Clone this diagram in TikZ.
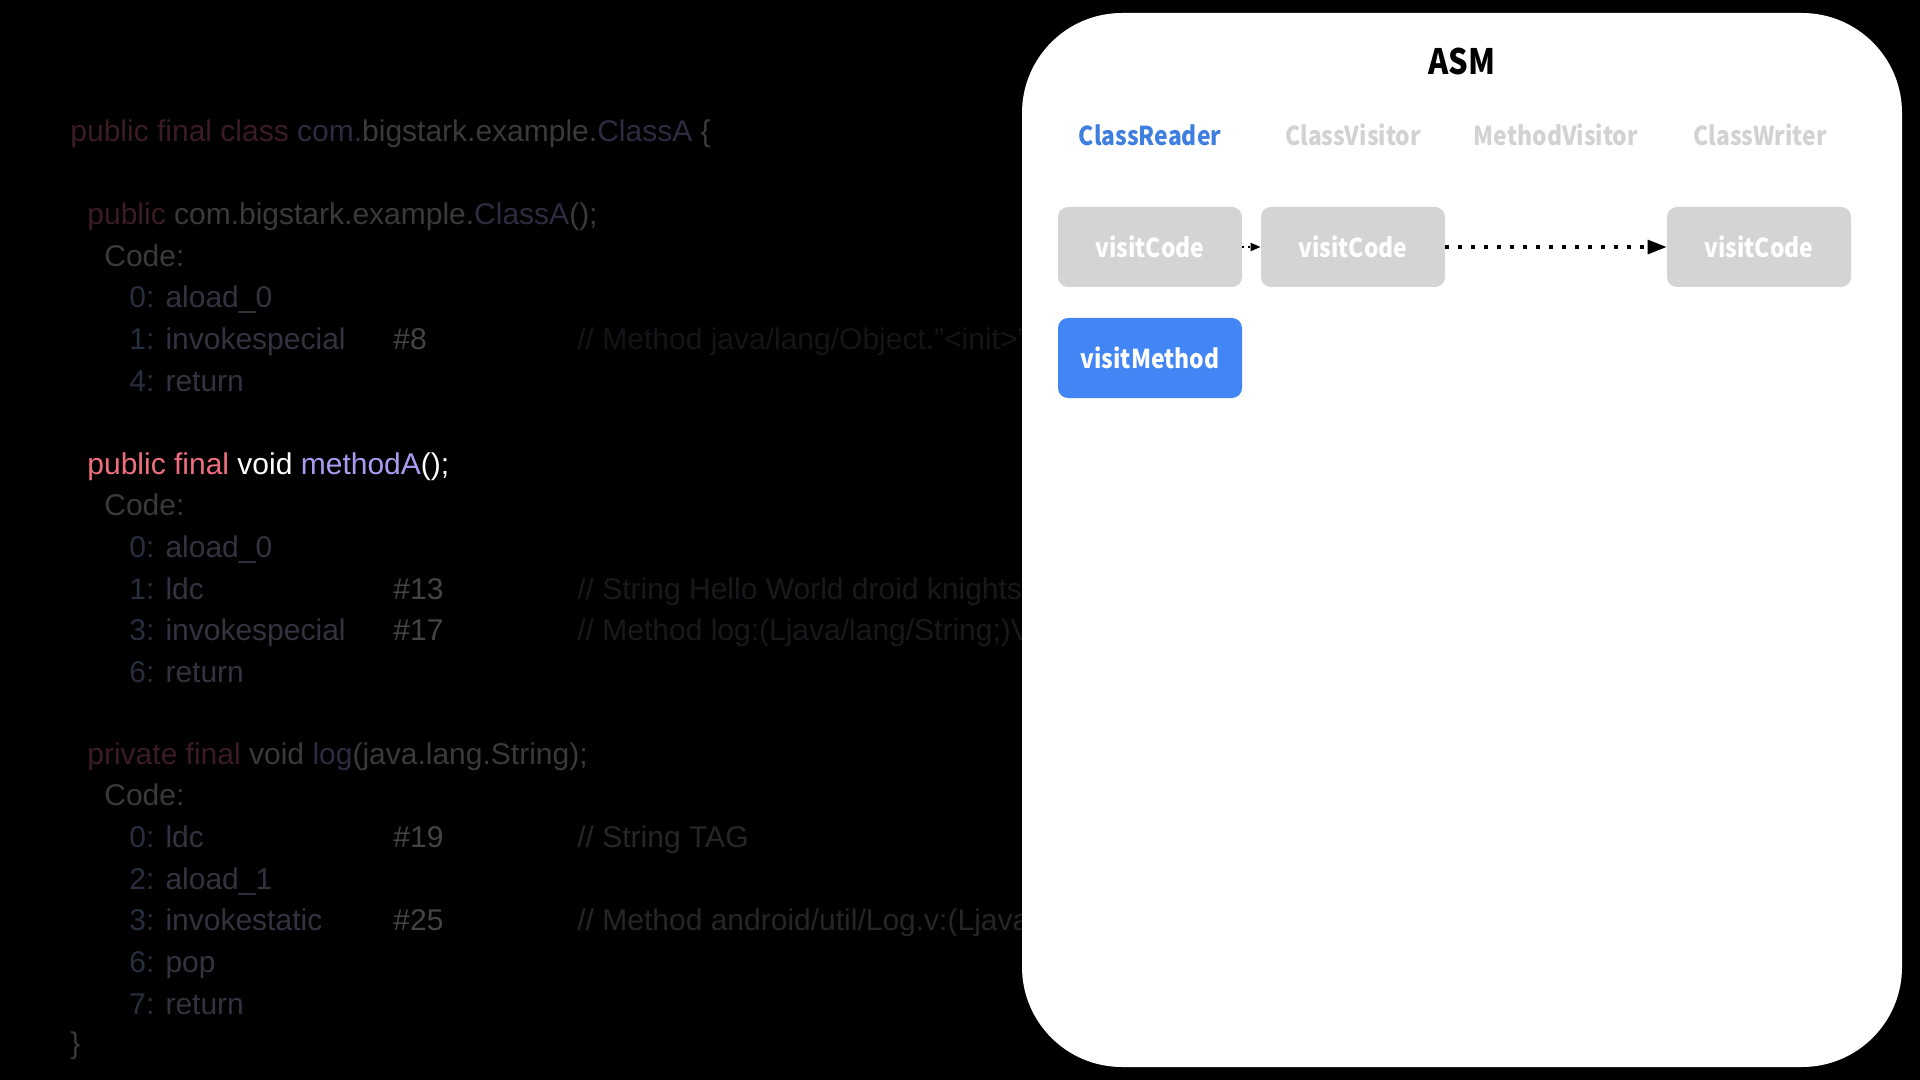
\documentclass[tikz,border=0pt]{standalone}
\usepackage{fontspec}
\setmainfont{Liberation Sans}
\newfontfamily\asmfont[FakeStretch=0.88]{Noto Sans CJK SC}
\usetikzlibrary{arrows.meta}
\definecolor{kwdim}{HTML}{3A1C22}
\definecolor{txtdim}{HTML}{3A3A3A}
\definecolor{clsdim}{HTML}{2C2B40}
\definecolor{numdim}{HTML}{282E3E}
\definecolor{opdim}{HTML}{333340}
\definecolor{refdim}{HTML}{444444}
\definecolor{cmtdim}{HTML}{151519}
\definecolor{cmtmid}{HTML}{19191D}
\definecolor{cmtlog}{HTML}{262628}
\definecolor{kwhi}{HTML}{EE6E7E}
\definecolor{mthhi}{HTML}{A99CF0}
\definecolor{boxgray}{HTML}{D4D4D4}
\definecolor{hdgray}{HTML}{D2D2D2}
\definecolor{asmblue}{HTML}{4285F4}
\definecolor{hdblue}{HTML}{3F7FE0}
\tikzset{every picture/.style={x=0.5pt,y=-0.5pt},
  code/.style={anchor=west,inner sep=0pt,text=txtdim,font=\fontsize{15}{18}\selectfont,text height=11pt,text depth=3pt},
  head/.style={font=\asmfont\bfseries\fontsize{13}{15}\selectfont,text=hdgray},
  call/.style={rounded corners=5pt,fill=boxgray,text=white,minimum width=92pt,minimum height=40pt,inner sep=0pt,font=\asmfont\bfseries\fontsize{13}{15}\selectfont},
  flow/.style={line width=1.6pt,dash pattern=on 1.6pt off 4.9pt,-{Triangle[length=9.5pt,width=7pt]}},
  hop/.style={line width=1pt,dash pattern=on 1pt off 2pt,-{Triangle[length=5pt,width=4pt]}}
}
\begin{document}
\begin{tikzpicture}

  \fill[black] (0,0) rectangle (1920,1080);
  \useasboundingbox (0,0) rectangle (1920,1080);

  % bytecode listing
  \node[code] (l1) at (70,134) {\textcolor{kwdim}{public final class} \textcolor{clsdim}{com.}bigstark.example.\textcolor{clsdim}{ClassA} \{};
  \node[code] (l2) at (87,217) {\textcolor{kwdim}{public} com.bigstark.example.\textcolor{clsdim}{ClassA}();};
  \node[code] (l3) at (104,259) {Code:};
  \node[code] (l4) at (129,300) {\textcolor{numdim}{0:} \textcolor{opdim}{aload\_0}};
  \node[code] (l5) at (129,342) {\textcolor{numdim}{1:} \textcolor{opdim}{invokespecial}};
  \node[code,text=refdim] (r5) at (393,342) {\#8};
  \node[code,text=cmtdim] (m5) at (577,342) {// Method java/lang/Object."<init>":()V};
  \node[code] (l6) at (129,384) {\textcolor{numdim}{4:} \textcolor{opdim}{return}};

  \node[code,text=white] (l7) at (87,466) {\textcolor{kwhi}{public final} void \textcolor{mthhi}{methodA}();};
  \node[code] (l8) at (104,507) {Code:};
  \node[code] (l9) at (129,549) {\textcolor{numdim}{0:} \textcolor{opdim}{aload\_0}};
  \node[code] (l10) at (129,591) {\textcolor{numdim}{1:} \textcolor{opdim}{ldc}};
  \node[code,text=refdim] (r10) at (393,591) {\#13};
  \node[code,text=cmtmid] (m10) at (577,591) {// String Hello World droid knights};
  \node[code] (l11) at (129,632) {\textcolor{numdim}{3:} \textcolor{opdim}{invokespecial}};
  \node[code,text=refdim] (r11) at (393,632) {\#17};
  \node[code,text=cmtmid] (m11) at (577,632) {// Method log:(Ljava/lang/String;)V};
  \node[code] (l12) at (129,674) {\textcolor{numdim}{6:} \textcolor{opdim}{return}};

  \node[code] (l13) at (87,756) {\textcolor{kwdim}{private final} void \textcolor{clsdim}{log}(java.lang.String);};
  \node[code] (l14) at (104,797) {Code:};
  \node[code] (l15) at (129,839) {\textcolor{numdim}{0:} \textcolor{opdim}{ldc}};
  \node[code,text=refdim] (r15) at (393,839) {\#19};
  \node[code,text=cmtlog] (m15) at (577,839) {// String TAG};
  \node[code] (l16) at (129,881) {\textcolor{numdim}{2:} \textcolor{opdim}{aload\_1}};
  \node[code] (l17) at (129,922) {\textcolor{numdim}{3:} \textcolor{opdim}{invokestatic}};
  \node[code,text=refdim] (r17) at (393,922) {\#25};
  \node[code,text=cmtlog] (m17) at (577,922) {// Method android/util/Log.v:(Ljava/lang/String;Ljava/lang/String;)I};
  \node[code] (l18) at (129,964) {\textcolor{numdim}{6:} \textcolor{opdim}{pop}};
  \node[code] (l19) at (129,1006) {\textcolor{numdim}{7:} \textcolor{opdim}{return}};
  \node[code] (l20) at (70,1045) {\}};

  % ASM panel
  \fill[white,rounded corners=50pt] (1022,13) rectangle (1902,1067);
  \node[font=\asmfont\bfseries\fontsize{17.5}{21}\selectfont] (asm) at (1462,61) {ASM};

  \node[head,text=hdblue] (cr) at (1150,135) {ClassReader};
  \node[head] (cv) at (1353,135) {ClassVisitor};
  \node[head] (mv) at (1556,135) {MethodVisitor};
  \node[head] (cw) at (1760,135) {ClassWriter};

  \node[call] (b1) at (1150,247) {visitCode};
  \node[call] (b2) at (1353,247) {visitCode};
  \node[call] (b3) at (1759,247) {visitCode};
  \node[call,fill=asmblue] (vm) at (1150,358) {visitMethod};

  \draw[hop] (b1) -- (b2);
  \draw[flow] (b2) -- (b3);

\end{tikzpicture}
\end{document}
